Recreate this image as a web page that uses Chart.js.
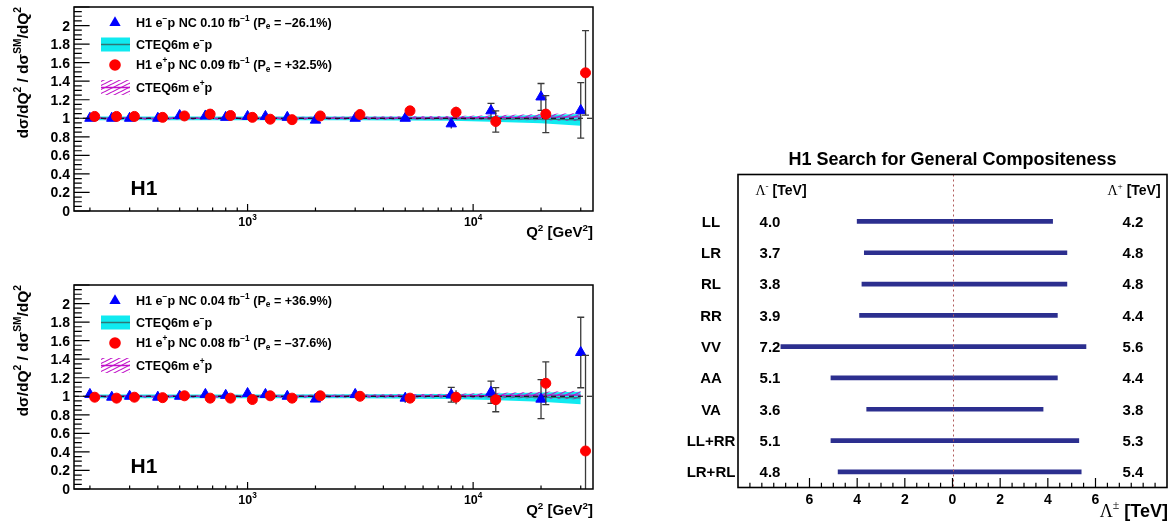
<!DOCTYPE html>
<html>
<head>
<meta charset="utf-8">
<script src="https://cdn.jsdelivr.net/npm/chart.js@4.4.0/dist/chart.umd.min.js"></script>
<style>
  body { margin: 0; background: #fff; }
  #wrap { position: relative; width: 1176px; height: 522px; }
  canvas { position: absolute; }
</style>
</head>
<body>
<div id="wrap">
  <canvas id="top" width="600" height="244" style="left:0;top:0"></canvas>
  <canvas id="bottom" width="600" height="244" style="left:0;top:278px"></canvas>
  <canvas id="limits" width="576" height="522" style="left:600px;top:0"></canvas>
</div>
<script>
// Q^2 bin centres in GeV^2
const q2Bins = [200, 250, 300, 400, 500, 650, 800, 1000, 1200, 1500, 2000, 3000, 5000, 8000, 12000, 20000, 30000];

// upper plot: e-p (Pe = -26.1%) and e+p (Pe = +32.5%)
const topEmRatio = [1.00, 1.00, 1.00, 1.00, 1.03, 1.025, 1.01, 1.02, 1.02, 1.01, 0.98, 1.00, 1.00, 0.94, 1.08, 1.23, 1.085];
const topEmError = [0.01, 0.01, 0.01, 0.01, 0.01, 0.012, 0.012, 0.014, 0.015, 0.016, 0.018, 0.02, 0.03, 0.05, 0.08, 0.145, 0.30];
const topEpRatio = [1.02, 1.02, 1.02, 1.01, 1.025, 1.045, 1.03, 1.01, 0.99, 0.985, 1.025, 1.04, 1.08, 1.065, 0.965, 1.045, 1.49];
const topEpError = [0.01, 0.01, 0.01, 0.01, 0.01, 0.012, 0.012, 0.014, 0.015, 0.016, 0.018, 0.02, 0.025, 0.06, 0.115, 0.20, 0.455];

// lower plot: e-p (Pe = +36.9%) and e+p (Pe = -37.6%)
const botEmRatio = [1.02, 0.99, 1.00, 0.99, 1.00, 1.02, 1.01, 1.03, 1.02, 1.00, 0.97, 1.02, 0.98, 1.016, 1.044, 0.969, 1.472];
const botEmError = [0.012, 0.012, 0.012, 0.012, 0.012, 0.014, 0.015, 0.016, 0.018, 0.02, 0.022, 0.025, 0.05, 0.08, 0.12, 0.21, 0.38];
const botEpRatio = [0.99, 0.98, 0.99, 0.985, 1.005, 0.98, 0.98, 0.965, 1.005, 0.98, 1.005, 1.00, 0.98, 0.99, 0.963, 1.14, 0.41];
const botEpError = [0.012, 0.012, 0.012, 0.012, 0.012, 0.014, 0.015, 0.016, 0.018, 0.02, 0.022, 0.025, 0.025, 0.075, 0.13, 0.23, 1.03];

// CTEQ6m expectation bands
const bandQ2 = [200, 1000, 3000, 8000, 12000, 20000, 30000];
const topEmBandLow  = [0.98, 0.98, 0.978, 0.972, 0.962, 0.945, 0.92];
const topEmBandHigh = [1.02, 1.02, 1.02, 1.02, 1.025, 1.035, 1.045];
const topEmBandMid  = [1.00, 1.00, 0.999, 0.996, 0.993, 0.99, 0.982];
const topEpBandLow  = [0.985, 0.985, 0.985, 0.985, 0.982, 0.978, 0.97];
const topEpBandHigh = [1.015, 1.015, 1.018, 1.025, 1.032, 1.045, 1.058];
const topEpBandMid  = [1.00, 1.00, 1.001, 1.005, 1.007, 1.011, 1.014];
const botEmBandLow  = [0.98, 0.98, 0.978, 0.97, 0.96, 0.94, 0.915];
const botEmBandHigh = [1.02, 1.02, 1.022, 1.025, 1.03, 1.04, 1.05];
const botEmBandMid  = [1.00, 1.00, 1.00, 0.998, 0.995, 0.99, 0.982];
const botEpBandLow  = [0.985, 0.985, 0.985, 0.983, 0.98, 0.975, 0.965];
const botEpBandHigh = [1.015, 1.015, 1.02, 1.027, 1.035, 1.048, 1.06];
const botEpBandMid  = [1.00, 1.00, 1.002, 1.005, 1.008, 1.012, 1.012];

// axis ticks
const ratioTicks = [0, 0.2, 0.4, 0.6, 0.8, 1, 1.2, 1.4, 1.6, 1.8, 2];
const q2Decades = [1000, 10000];
const lambdaTicks = [-6, -4, -2, 0, 2, 4, 6];

// compositeness limits (95% CL) in TeV
const contactModels = ['LL', 'LR', 'RL', 'RR', 'VV', 'AA', 'VA', 'LL+RR', 'LR+RL'];
const lambdaMinus = [4.0, 3.7, 3.8, 3.9, 7.2, 5.1, 3.6, 5.1, 4.8];
const lambdaPlus  = [4.2, 4.8, 4.8, 4.4, 5.6, 4.4, 3.8, 5.3, 5.4];

const SANS = '"Liberation Sans", Arial, Helvetica, sans-serif';
const SERIF = '"Liberation Serif", "Times New Roman", serif';
const BLUE = '#0000ff';
const RED = '#ff0000';
const CYAN = '#10eaf0';
const MAGENTA = '#c010c8';
const NAVY = '#2c2f8f';

function partFont(size, shift, style) {
  const px = shift ? size * 0.66 : size;
  return style === 's' ? `normal ${px}px ${SERIF}` : `bold ${px}px ${SANS}`;
}

// text with super/subscripts; parts are [text, shift, style], y is the middle of capitals
function drawRich(ctx, parts, x, y, size, align) {
  let width = 0;
  for (const [t, sh, st] of parts) {
    ctx.font = partFont(size, sh, st);
    width += ctx.measureText(t).width;
  }
  let cx = align === 'right' ? x - width : align === 'center' ? x - width / 2 : x;
  const base = y + size * 0.36;
  ctx.textAlign = 'left';
  ctx.textBaseline = 'alphabetic';
  ctx.fillStyle = '#000';
  for (const [t, sh, st] of parts) {
    ctx.font = partFont(size, sh, st);
    const dy = sh > 0 ? -size * 0.45 : sh < 0 ? size * 0.22 : 0;
    ctx.fillText(t, cx, base + dy);
    cx += ctx.measureText(t).width;
  }
}

function hatchPattern(color) {
  const c = document.createElement('canvas');
  c.width = 8; c.height = 4;
  const g = c.getContext('2d');
  g.strokeStyle = color;
  g.lineWidth = 1.1;
  g.beginPath();
  g.moveTo(-8, 4); g.lineTo(8, -4);
  g.moveTo(0, 4); g.lineTo(8, 0);
  g.moveTo(0, 8); g.lineTo(16, 0);
  g.stroke();
  return g.createPattern(c, 'repeat');
}
const hatch = hatchPattern(MAGENTA);

function triangle(ctx, x, y, r) {
  ctx.beginPath();
  ctx.moveTo(x, y - r);
  ctx.lineTo(x + r * 0.866, y + r / 2);
  ctx.lineTo(x - r * 0.866, y + r / 2);
  ctx.closePath();
  ctx.fill();
}

const ratioDecor = {
  id: 'ratioDecor',
  beforeDatasetDraw(chart, args) {
    const ds = chart.data.datasets[args.index];
    if (!ds.errors) return;
    const { ctx, chartArea: a, scales: { y } } = chart;
    ctx.save();
    ctx.beginPath();
    ctx.rect(a.left, a.top, a.right - a.left, a.bottom - a.top);
    ctx.clip();
    if (ds.drawUnity) {
      const py = y.getPixelForValue(1);
      ctx.strokeStyle = '#000';
      ctx.lineWidth = 1.2;
      ctx.setLineDash([5, 4]);
      ctx.beginPath();
      ctx.moveTo(a.left, py);
      ctx.lineTo(a.right, py);
      ctx.stroke();
      ctx.setLineDash([]);
    }
    ctx.strokeStyle = '#3a3a3a';
    ctx.lineWidth = 1.3;
    args.meta.data.forEach((pt, i) => {
      const v = ds.data[i].y, e = ds.errors[i];
      const y1 = y.getPixelForValue(v + e), y2 = y.getPixelForValue(v - e);
      ctx.beginPath();
      ctx.moveTo(pt.x, y1);
      ctx.lineTo(pt.x, y2);
      if (y2 - y1 > 14) {
        ctx.moveTo(pt.x - 3.5, y1); ctx.lineTo(pt.x + 3.5, y1);
        ctx.moveTo(pt.x - 3.5, y2); ctx.lineTo(pt.x + 3.5, y2);
      }
      ctx.stroke();
    });
    ctx.restore();
  },
  afterDraw(chart) {
    const { ctx, chartArea: a, scales: { x, y } } = chart;
    const legend = chart.options.plugins.ratioDecor.legend;
    ctx.save();
    // frame
    ctx.strokeStyle = '#000';
    ctx.lineWidth = 1.5;
    ctx.strokeRect(a.left, a.top, a.right - a.left, a.bottom - a.top);
    // y ticks, 0.05 minor steps
    ctx.lineWidth = 1.2;
    ctx.beginPath();
    for (let k = 0; k <= 44; k++) {
      const py = y.getPixelForValue(k * 0.05);
      const len = k % 4 === 0 ? 15.6 : 7.8;
      ctx.moveTo(a.left, py);
      ctx.lineTo(a.left + len, py);
    }
    // x ticks on a log axis
    for (const dec of [100, 1000, 10000]) {
      for (let k = 1; k <= 9; k++) {
        const v = k * dec;
        if (v < x.min || v > x.max) continue;
        const px = x.getPixelForValue(v);
        ctx.moveTo(px, a.bottom);
        ctx.lineTo(px, a.bottom - (k === 1 ? 7 : 3.5));
      }
    }
    ctx.stroke();
    // tick labels
    for (const v of ratioTicks) {
      drawRich(ctx, [[String(v)]], a.left - 4, y.getPixelForValue(v), 14, 'right');
    }
    for (const v of q2Decades) {
      drawRich(ctx, [['10'], [String(Math.round(Math.log10(v))), 1]], x.getPixelForValue(v), a.bottom + 10, 12.5, 'center');
    }
    // axis titles
    drawRich(ctx, [['Q'], ['2', 1], [' [GeV'], ['2', 1], [']']], a.right, a.bottom + 21, 15, 'right');
    ctx.save();
    ctx.translate(22, a.top);
    ctx.rotate(-Math.PI / 2);
    drawRich(ctx, [['dσ/dQ'], ['2', 1], [' / dσ'], ['SM', 1], ['/dQ'], ['2', 1]], 0, 0, 15.5, 'right');
    ctx.restore();
    // legend
    const mx = 115, tx = 136;
    ctx.fillStyle = BLUE;
    triangle(ctx, mx, 22.7, 6.5);
    ctx.fillStyle = CYAN;
    ctx.fillRect(101, 37.5, 29, 14);
    ctx.strokeStyle = '#2e7777';
    ctx.lineWidth = 1.5;
    ctx.beginPath(); ctx.moveTo(101, 44.5); ctx.lineTo(130, 44.5); ctx.stroke();
    ctx.fillStyle = RED;
    ctx.beginPath(); ctx.arc(mx, 65, 5.8, 0, Math.PI * 2); ctx.fill();
    ctx.fillStyle = hatch;
    ctx.fillRect(101, 80, 29, 15);
    ctx.strokeStyle = MAGENTA;
    ctx.beginPath(); ctx.moveTo(101, 87.5); ctx.lineTo(130, 87.5); ctx.stroke();
    [22, 44, 64.5, 87].forEach((ly, i) => drawRich(ctx, legend[i], tx, ly, 12.6, 'left'));
    drawRich(ctx, [['H1']], 144, 187, 21, 'center');
    ctx.restore();
  }
};

function ratioPanel(id, em, emErr, ep, epErr, band, legend) {
  const pts = (vals, shift) => q2Bins.map((q, i) => ({ x: q * shift, y: vals[i] }));
  const bandPts = vals => bandQ2.map((q, i) => ({ x: q, y: vals[i] }));
  const edge = { borderColor: 'transparent', borderWidth: 1, pointRadius: 0 };
  const datasets = [
    { ...edge, data: bandPts(band.emHigh), fill: false },
    { ...edge, data: bandPts(band.emLow), fill: 0, backgroundColor: CYAN },
    { ...edge, data: bandPts(band.epHigh), fill: false },
    { ...edge, data: bandPts(band.epLow), fill: 2, backgroundColor: hatch },
    { data: bandPts(band.emMid), borderColor: '#2e7777', borderWidth: 1.2, pointRadius: 0, fill: false },
    { data: bandPts(band.epMid), borderColor: MAGENTA, borderWidth: 1.2, pointRadius: 0, fill: false },
    { data: pts(em, 1), showLine: false, pointStyle: 'triangle', pointRadius: 6, borderWidth: 1,
      backgroundColor: BLUE, borderColor: BLUE, errors: emErr, drawUnity: true },
    { data: pts(ep, 1.05), showLine: false, pointStyle: 'circle', pointRadius: 5, borderWidth: 1,
      backgroundColor: RED, borderColor: RED, errors: epErr }
  ];
  datasets.forEach((d, i) => { d.order = -i; d.tension = 0; });

  return new Chart(document.getElementById(id), {
    type: 'line',
    data: { datasets },
    options: {
      responsive: false,
      animation: false,
      events: [],
      layout: { padding: { left: 74, right: 7, top: 5.5, bottom: 33 } },
      scales: {
        x: { type: 'logarithmic', min: 170, max: 34000, display: false },
        y: { type: 'linear', min: 0, max: 2.2, display: false }
      },
      plugins: {
        legend: { display: false },
        tooltip: { enabled: false },
        ratioDecor: { legend }
      }
    },
    plugins: [ratioDecor]
  });
}

ratioPanel('top', topEmRatio, topEmError, topEpRatio, topEpError,
  { emLow: topEmBandLow, emHigh: topEmBandHigh, emMid: topEmBandMid,
    epLow: topEpBandLow, epHigh: topEpBandHigh, epMid: topEpBandMid },
  [
    [['H1 e'], ['−', 1], ['p NC 0.10 fb'], ['−1', 1], [' (P'], ['e', -1], [' = –26.1%)']],
    [['CTEQ6m e'], ['−', 1], ['p']],
    [['H1 e'], ['+', 1], ['p NC 0.09 fb'], ['−1', 1], [' (P'], ['e', -1], [' = +32.5%)']],
    [['CTEQ6m e'], ['+', 1], ['p']]
  ]);

ratioPanel('bottom', botEmRatio, botEmError, botEpRatio, botEpError,
  { emLow: botEmBandLow, emHigh: botEmBandHigh, emMid: botEmBandMid,
    epLow: botEpBandLow, epHigh: botEpBandHigh, epMid: botEpBandMid },
  [
    [['H1 e'], ['−', 1], ['p NC 0.04 fb'], ['−1', 1], [' (P'], ['e', -1], [' = +36.9%)']],
    [['CTEQ6m e'], ['−', 1], ['p']],
    [['H1 e'], ['+', 1], ['p NC 0.08 fb'], ['−1', 1], [' (P'], ['e', -1], [' = –37.6%)']],
    [['CTEQ6m e'], ['+', 1], ['p']]
  ]);

// limits panel: axis, labels and the zero line
const limitsDecor = {
  id: 'limitsDecor',
  afterDatasetsDraw(chart) {
    const { ctx, chartArea: a, scales: { x } } = chart;
    const px = Math.round(x.getPixelForValue(0)) + 0.5;
    ctx.save();
    ctx.strokeStyle = '#b05a5a';
    ctx.lineWidth = 1;
    ctx.setLineDash([2, 3]);
    ctx.beginPath();
    ctx.moveTo(px, a.top);
    ctx.lineTo(px, a.bottom);
    ctx.stroke();
    ctx.restore();
  },
  afterDraw(chart) {
    const { ctx, chartArea: a, scales: { x, y } } = chart;
    ctx.save();
    ctx.strokeStyle = '#000';
    ctx.lineWidth = 1.6;
    ctx.strokeRect(a.left, a.top, a.right - a.left, a.bottom - a.top);
    ctx.lineWidth = 1.2;
    ctx.beginPath();
    for (let k = -17; k <= 17; k++) {
      const v = k * 0.5;
      const px = x.getPixelForValue(v);
      const len = lambdaTicks.includes(v) ? 9.4 : 4.7;
      ctx.moveTo(px, a.bottom);
      ctx.lineTo(px, a.bottom - len);
    }
    ctx.stroke();
    for (const v of lambdaTicks) {
      drawRich(ctx, [[String(Math.abs(v))]], x.getPixelForValue(v), a.bottom + 11, 14, 'center');
    }
    drawRich(ctx, [['Λ', 0, 's'], ['±', 1, 's'], [' [TeV]']], a.right + 1, a.bottom + 23, 18, 'right');
    drawRich(ctx, [['H1 Search for General Compositeness']], (a.left + a.right) / 2, a.top - 16, 18, 'center');

    const headY = y.getPixelForValue(0);
    drawRich(ctx, [['Λ', 0, 's'], ['-', 1, 's'], [' [TeV]']], 181, headY, 14, 'center');
    drawRich(ctx, [['Λ', 0, 's'], ['+', 1, 's'], [' [TeV]']], 534, headY, 14, 'center');
    contactModels.forEach((name, i) => {
      const py = y.getPixelForValue(i + 1);
      drawRich(ctx, [[name]], 111, py, 15, 'center');
      drawRich(ctx, [[lambdaMinus[i].toFixed(1)]], 170, py, 15, 'center');
      drawRich(ctx, [[lambdaPlus[i].toFixed(1)]], 533, py, 15, 'center');
    });
    ctx.restore();
  }
};

new Chart(document.getElementById('limits'), {
  type: 'bar',
  data: {
    labels: ['', ...contactModels],
    datasets: [{
      data: [null, ...contactModels.map((_, i) => [-lambdaMinus[i], lambdaPlus[i]])],
      backgroundColor: NAVY,
      borderWidth: 0,
      borderSkipped: false,
      barThickness: 4
    }]
  },
  options: {
    indexAxis: 'y',
    responsive: false,
    animation: false,
    events: [],
    layout: { padding: { left: 138, right: 9, top: 174.5, bottom: 34.5 } },
    scales: {
      x: { type: 'linear', min: -9, max: 9, display: false },
      y: { type: 'category', offset: true, display: false }
    },
    plugins: { legend: { display: false }, tooltip: { enabled: false } }
  },
  plugins: [limitsDecor]
});
</script>
</body>
</html>
